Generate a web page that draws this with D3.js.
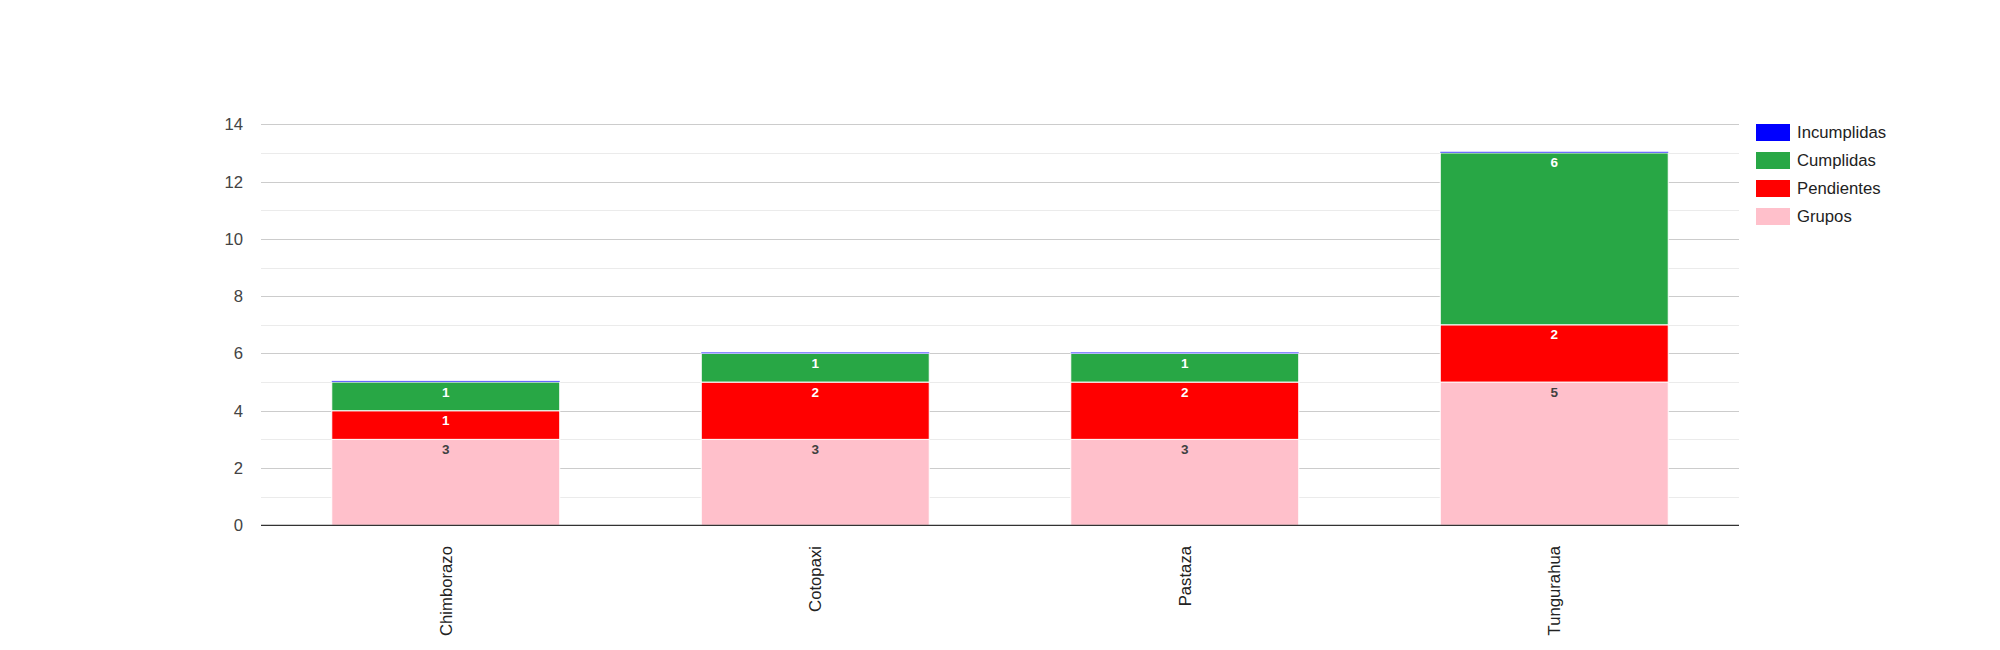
<!DOCTYPE html>
<html><head><meta charset="utf-8">
<script src="https://cdn.jsdelivr.net/npm/d3@7"></script>
<style>body{margin:0;background:#fff;font-family:Arial,"Liberation Sans",sans-serif}</style>
</head><body><svg id="c" width="2000" height="650"></svg>
<script>
const categories = ["Chimborazo","Cotopaxi","Pastaza","Tungurahua"];
const grupos = [3,3,3,5];
const pendientes = [1,2,2,2];
const cumplidas = [1,1,1,6];
const incumplidas = [0,0,0,0];
const seriesNames = ["Grupos","Pendientes","Cumplidas","Incumplidas"];
const seriesColors = ["#ffc0cb","#ff0000","#28a745","#0000ff"];
const labelColors = ["#404040","#ffffff","#ffffff","#ffffff"];
const yTicks = [0,2,4,6,8,10,12,14];
const yMinor = [1,3,5,7,9,11,13];

const svg = d3.select("#c");
const L=261, R=1739, T=124.3, B=525.3;
const x = d3.scaleBand().domain(categories).range([L,R]).paddingInner(0.383).paddingOuter(0.1915);
const y = d3.scaleLinear().domain([0,14]).range([B,T]);

const values = [grupos,pendientes,cumplidas,incumplidas];
const rows = categories.map((c,i)=>{const o={cat:c}; seriesNames.forEach((s,k)=>o[s]=values[k][i]); return o;});
const stacked = d3.stack().keys(seriesNames)(rows);

// grid
svg.append("g").selectAll("line").data(yMinor).join("line")
  .attr("x1",L).attr("x2",R).attr("y1",d=>Math.round(y(d))+0.5).attr("y2",d=>Math.round(y(d))+0.5)
  .attr("stroke","#ebebeb").attr("stroke-width",1);
svg.append("g").selectAll("line").data(yTicks.filter(d=>d>0)).join("line")
  .attr("x1",L).attr("x2",R).attr("y1",d=>Math.round(y(d))+0.5).attr("y2",d=>Math.round(y(d))+0.5)
  .attr("stroke","#cccccc").attr("stroke-width",1);

// y labels
svg.append("g").selectAll("text").data(yTicks).join("text")
  .attr("x",243).attr("y",d=>y(d)+6).attr("text-anchor","end")
  .attr("font-size",16.7).attr("fill","#444").text(d=>d);

// bars
stacked.forEach((layer,k)=>{
  const g = svg.append("g");
  g.selectAll("rect").data(layer).join("rect")
    .attr("x",d=>x(d.data.cat)).attr("width",x.bandwidth())
    .attr("y",d=>{const h=y(d[0])-y(d[1]); return h<1? y(d[1])-1.2 : y(d[1]);})
    .attr("height",d=>Math.max(1.2,y(d[0])-y(d[1])))
    .attr("fill",seriesColors[k])
    .attr("opacity",d=>(d[1]-d[0])===0?0.6:1)
    .attr("stroke",d=>(d[1]-d[0])===0?"none":"#fff").attr("stroke-width",1);
  g.selectAll("text").data(layer.filter(d=>d[1]-d[0]>0)).join("text")
    .attr("x",d=>x(d.data.cat)+x.bandwidth()/2).attr("y",d=>y(d[1])+14.5)
    .attr("text-anchor","middle").attr("font-size",13.5).attr("font-weight","bold")
    .attr("fill",labelColors[k]).text(d=>d[1]-d[0]);
});

// baseline
svg.append("line").attr("x1",L).attr("x2",R).attr("y1",B).attr("y2",B).attr("stroke","#333").attr("stroke-width",1.3);

// x labels
svg.append("g").selectAll("text").data(categories).join("text")
  .attr("transform",d=>`translate(${x(d)+x.bandwidth()/2+6},546) rotate(-90)`)
  .attr("text-anchor","end").attr("font-size",16.7).attr("fill","#222").text(d=>d);

// legend
const legendOrder = [3,2,1,0];
const lg = svg.append("g").selectAll("g").data(legendOrder).join("g")
  .attr("transform",(d,i)=>`translate(1756,${124+i*28})`);
lg.append("rect").attr("width",34).attr("height",17).attr("fill",d=>seriesColors[d]);
lg.append("text").attr("x",41).attr("y",14).attr("font-size",16.7).attr("fill","#222").text(d=>seriesNames[d]);
</script></body></html>
